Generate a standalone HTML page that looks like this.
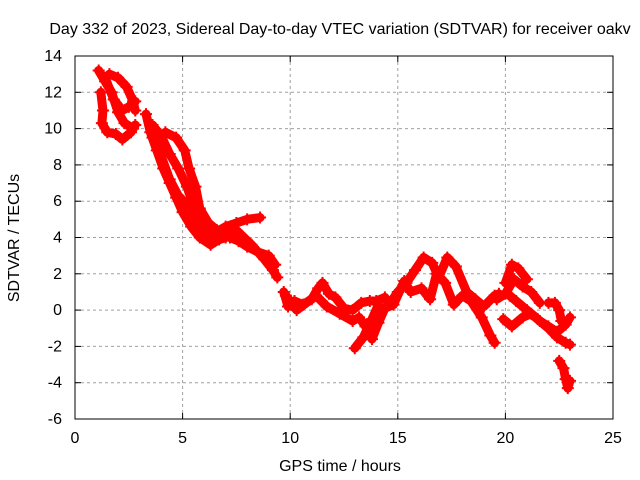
<!DOCTYPE html>
<html><head><meta charset="utf-8"><style>
body{margin:0;background:#fff}
svg{display:block;font-family:"Liberation Sans",sans-serif;font-size:16px}
</style></head><body>
<svg id="chart" width="640" height="480">
<text x="340" y="34" text-anchor="middle">Day 332 of 2023, Sidereal Day-to-day VTEC variation (SDTVAR) for receiver oakv</text>
<text x="340" y="471" text-anchor="middle">GPS time / hours</text>
<text transform="translate(19,238) rotate(-90)" text-anchor="middle">SDTVAR / TECUs</text>
<g id="grid"></g><g id="marks"></g><g id="axes"></g>
</svg>
<script>
const xTicks=[0,5,10,15,20,25];
const yTicks=[-6,-4,-2,0,2,4,6,8,10,12,14];
const track1=[[1.2,12.0],[1.3,11],[1.25,10.3],[1.5,9.8],[1.9,9.7],[2.2,9.4],[2.6,9.8],[2.8,10.2]];
const track2=[[1.1,13.2],[1.4,12.6],[1.7,12.0],[2.0,10.9],[2.3,10.3],[2.7,10.0]];
const track3=[[1.6,13],[2.0,12.8],[2.4,12.3],[2.7,11.5],[2.8,11.0]];
const track4=[[1.4,12.8],[1.8,11.6],[2.2,11.0],[2.5,11.2],[2.8,11.5]];
const track5=[[3.3,10.8],[3.5,9.8],[3.8,8.8],[4.1,7.8],[4.4,7.0],[4.7,6.2],[5.0,5.4],[5.4,4.6],[5.8,4.0],[6.3,3.6],[6.7,3.9],[7.0,4.2]];
const track6=[[3.6,10.2],[4.0,9.6],[4.4,8.6],[4.8,7.8],[5.2,6.8],[5.5,5.8],[5.9,4.6],[6.4,4.2],[7.0,4.6],[7.5,4.8],[8.0,5.0],[8.6,5.1]];
const track7=[[4.2,9.8],[4.7,9.5],[5.1,8.8],[5.3,7.8],[5.6,6.8],[5.8,5.6],[6.2,4.8],[6.6,4.4],[7.2,4.0],[7.6,3.8],[8.0,3.5],[8.5,3.2],[9.0,3.0],[9.3,2.5]];
const track8=[[3.6,9.5],[4.0,8.5],[4.4,7.2],[4.8,6.3],[5.2,5.8],[5.6,5.0],[6.0,4.3],[6.5,3.8],[7.0,4.0],[7.5,4.4],[8.2,3.6],[8.8,2.8],[9.2,2.2],[9.4,1.8]];
const track9=[[9.7,1.0],[9.9,0.2],[10.2,0.5],[10.6,0.3],[11.0,0.6],[11.3,1.2],[11.5,1.5],[11.8,0.9],[12.1,0.7],[12.5,0.1],[12.9,0.0],[13.3,0.4],[13.7,0.5],[14.0,0.5],[14.4,0.7],[14.6,0.3],[15.0,1.0],[15.4,1.5],[15.8,2.2],[16.2,2.9],[16.6,2.6],[16.9,1.8],[17.3,2.9],[17.7,2.4],[18.2,1.0],[18.6,0.6],[19.0,0.2],[19.5,0.8],[19.7,0.9]];
const track10=[[9.8,0.8],[10.3,0.0],[11.2,0.8],[11.7,0.2],[12.3,-0.2],[12.9,-0.6],[13.2,-0.4],[13.5,-0.9],[13.8,-1.6],[14.1,-0.7],[14.4,0.1],[14.8,0.3],[15.3,1.6],[15.6,1.0],[16.1,1.2],[16.5,0.6],[16.8,2.0],[17.2,1.5],[17.6,0.3],[18.0,0.8],[18.4,0.5],[18.9,-0.4],[19.3,-1.4],[19.5,-1.8]];
const track11=[[13.0,-2.1],[13.4,-1.5],[13.8,-0.5],[14.1,0.3]];
const track12=[[20.0,1.5],[20.3,2.5],[20.6,2.3],[21.0,1.7]];
const track13=[[20.2,0.8],[20.5,0.5],[21.0,0.0],[21.5,-0.5],[22.0,-1.0],[22.4,-1.5],[22.8,-1.8],[23.0,-1.9]];
const track14=[[19.9,-0.5],[20.3,-0.9],[20.8,-0.4],[21.2,-0.2],[21.6,-0.6],[22.0,-0.9],[22.4,-1.2],[22.8,-0.8],[23.0,-0.4]];
const track15=[[22.0,0.4],[22.3,0.4],[22.5,0.0],[22.6,-0.6]];
const track16=[[22.5,-2.8],[22.7,-3.2],[22.8,-3.8],[22.9,-4.3],[23.0,-3.9]];
const track17=[[19.6,0.6],[20.0,0.9],[20.4,1.7],[20.8,1.3],[21.2,1.0],[21.6,0.4]];
const tracks=[track1,track2,track3,track4,track5,track6,track7,track8,track9,track10,track11,track12,track13,track14,track15,track16,track17];

const L=75,R=613,T=56,B=419,NS="http://www.w3.org/2000/svg";
const xs=v=>L+(v-0)/25*(R-L);
const ys=v=>B-(v+6)/20*(B-T);
function mk(tag,attrs,parent){const e=document.createElementNS(NS,tag);for(const k in attrs)e.setAttribute(k,attrs[k]);parent.appendChild(e);return e;}
const grid=document.getElementById('grid'),marks=document.getElementById('marks'),axes=document.getElementById('axes');
xTicks.forEach(t=>{
  const x=xs(t);
  if(t>0&&t<25){const g=mk('line',{x1:x,x2:x,y1:T,y2:B,stroke:'#a0a0a0','stroke-dasharray':'3,3'},grid);
  
  }
  mk('line',{x1:x,x2:x,y1:B,y2:B-6,stroke:'#000'},axes);
  mk('line',{x1:x,x2:x,y1:T,y2:T+6,stroke:'#000'},axes);
  const lb=mk('text',{x:x,y:B+24,'text-anchor':'middle'},axes);lb.textContent=t;
  
  
});
yTicks.forEach(t=>{
  const y=ys(t);
  if(t>-6&&t<14){const g=mk('line',{x1:L,x2:R,y1:y,y2:y,stroke:'#a0a0a0','stroke-dasharray':'3,3'},grid);
  
  }
  mk('line',{x1:L,x2:L+6,y1:y,y2:y,stroke:'#000'},axes);
  mk('line',{x1:R,x2:R-6,y1:y,y2:y,stroke:'#000'},axes);
  const lb=mk('text',{x:L-13,y:y+5,'text-anchor':'end'},axes);lb.textContent=t;
  
  
});
const fr=mk('rect',{x:L,y:T,width:R-L,height:B-T,fill:'none',stroke:'#000'},axes);


tracks.forEach(tr=>{
  const pl=mk('polyline',{points:tr.map(p=>xs(p[0])+','+ys(p[1])).join(' '),fill:'none',stroke:'#ff0000','stroke-width':9,'stroke-linejoin':'round','stroke-linecap':'round'},marks);
  
  
  tr.forEach(p=>{
    const x=xs(p[0]),y=ys(p[1]);
    const m=mk('path',{d:`M${x-6},${y}h12M${x},${y-6}v12`,stroke:'#ff0000','stroke-width':2},marks);
    
    
  });
});
</script>
</body></html>
